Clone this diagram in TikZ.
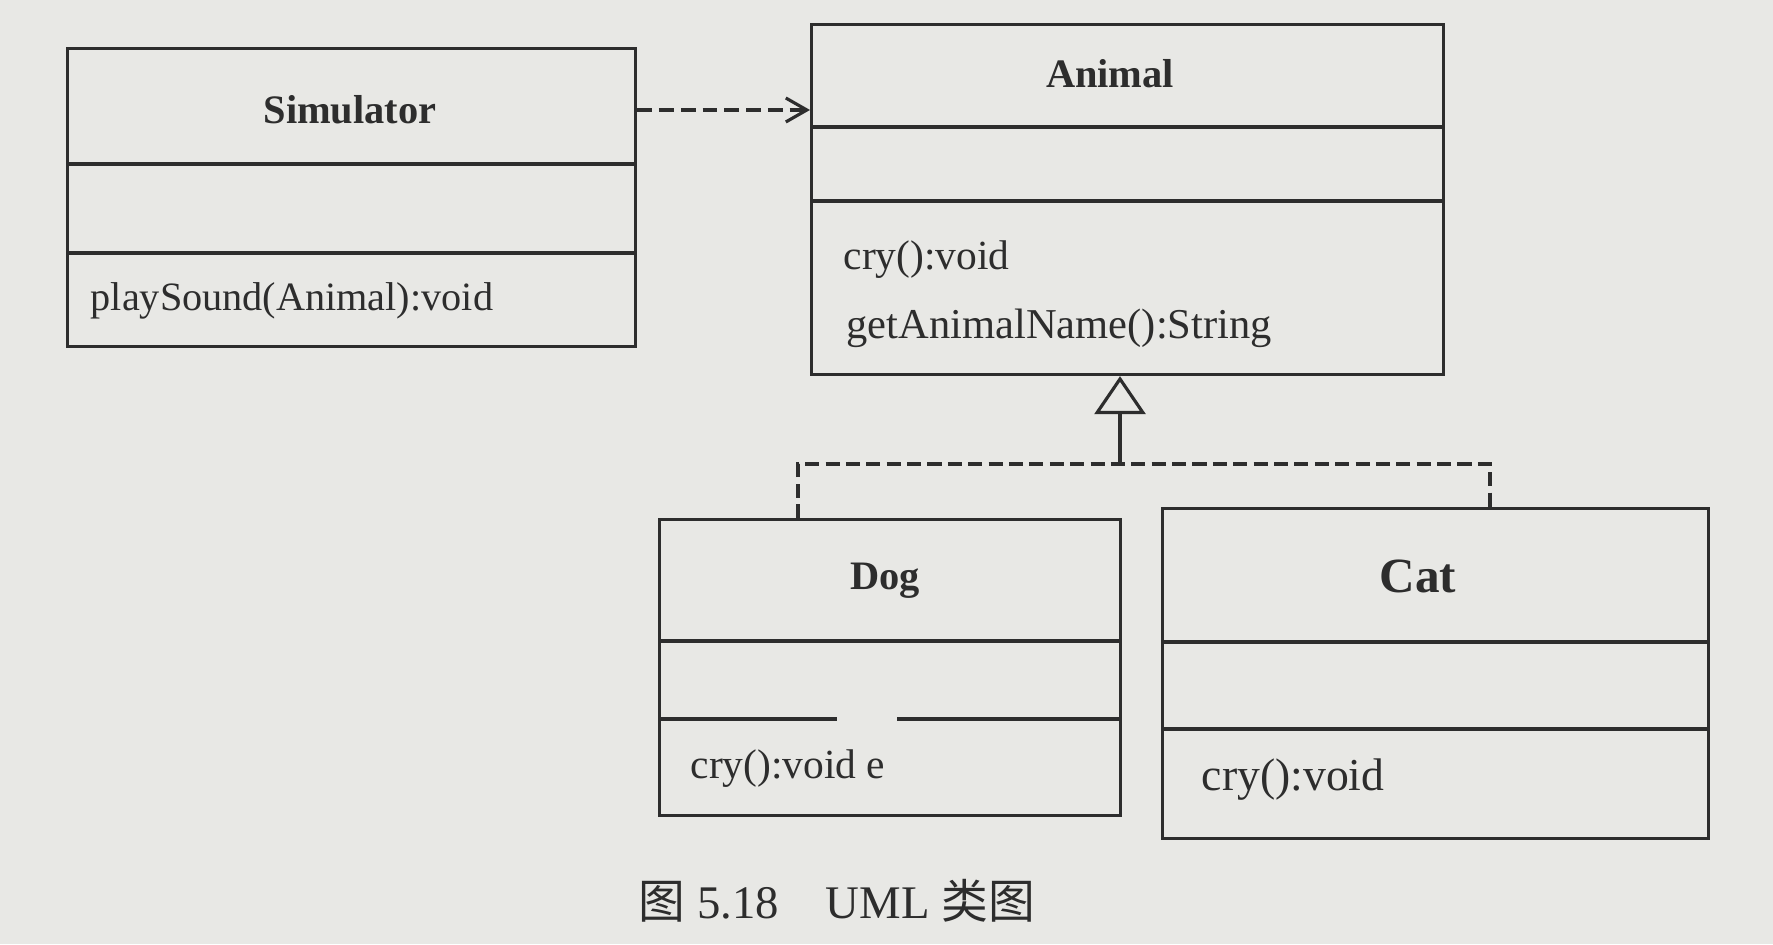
\documentclass[tikz,border=0pt]{standalone}
\usepackage{fontspec}
\setmainfont{Liberation Serif}
\newfontfamily\cjk{Noto Sans CJK SC}
\usepackage{xcolor}
\usetikzlibrary{arrows.meta,positioning}
\definecolor{paper}{RGB}{232,232,229}
\definecolor{ink}{RGB}{45,45,45}

\begin{document}
\begin{tikzpicture}[
  classbox/.style={rectangle, draw=ink, line width=0.9pt, anchor=north west, inner sep=0pt},
  divider/.style={draw=ink, line width=0.9pt},
  title/.style={font=\fontsize{11.5}{14}\selectfont\bfseries, text=ink},
  member/.style={font=\fontsize{11.8}{14}\selectfont, text=ink, anchor=west, inner sep=0pt},
  depend/.style={-{Straight Barb[length=2.1mm,width=2.4mm]}, draw=ink, line width=0.9pt, dash pattern=on 4.2pt off 2pt},
  realize/.style={draw=ink, line width=0.9pt, dash pattern=on 4pt off 1.8pt}
]
\useasboundingbox[fill=paper] (0,0) rectangle (17.73,9.44);

\node[classbox, minimum width=5.68cm, minimum height=2.98cm] (sim) at (0.66,8.97) {};
\node[title] (simname) at (3.50,8.34) {Simulator};
\draw[divider] ([yshift=-1.17cm]sim.north west) -- ([yshift=-1.17cm]sim.north east);
\draw[divider] ([yshift=-2.06cm]sim.north west) -- ([yshift=-2.06cm]sim.north east);
\node[member, font=\fontsize{11.45}{14}\selectfont] (play) at (0.90,6.43) {playSound(Animal):void};

\node[classbox, minimum width=6.32cm, minimum height=3.50cm] (animal) at (8.10,9.21) {};
\node[title] (animalname) at (11.10,8.70) {Animal};
\draw[divider] ([yshift=-1.04cm]animal.north west) -- ([yshift=-1.04cm]animal.north east);
\draw[divider] ([yshift=-1.78cm]animal.north west) -- ([yshift=-1.78cm]animal.north east);
\node[member] (acry) at (8.43,6.84) {cry():void};
\node[member, font=\fontsize{12.1}{14}\selectfont] (agetname) at (8.46,6.16) {getAnimalName():String};

\node[classbox, minimum width=4.61cm, minimum height=2.96cm] (dog) at (6.58,4.26) {};
\node[title] (dogname) at (8.85,3.63) {Dog};
\draw[divider] ([yshift=-1.23cm]dog.north west) -- ([yshift=-1.23cm]dog.north east);
\draw[divider] ([yshift=-2.01cm]dog.north west) -- ([yshift=-2.01cm,xshift=1.79cm]dog.north west);
\draw[divider] ([yshift=-2.01cm,xshift=2.39cm]dog.north west) -- ([yshift=-2.01cm]dog.north east);
\node[member] (dcry) at (6.90,1.75) {cry():void e};

\node[classbox, minimum width=5.46cm, minimum height=3.30cm] (cat) at (11.61,4.37) {};
\node[title, font=\fontsize{14}{16}\selectfont\bfseries] (catname) at (14.18,3.68) {Cat};
\draw[divider] ([yshift=-1.35cm]cat.north west) -- ([yshift=-1.35cm]cat.north east);
\draw[divider] ([yshift=-2.22cm]cat.north west) -- ([yshift=-2.22cm]cat.north east);
\node[member, font=\fontsize{13}{15}\selectfont] (ccry) at (12.01,1.64) {cry():void};

\draw[depend] (sim.east |- simname) -- (animal.west |- simname);

\coordinate (join) at (11.20,4.80);
\draw[draw=ink, line width=0.9pt, -{Triangle[open,length=3.8mm,width=5.1mm]}] (join) -- (animal.south -| join);
\draw[realize] ([xshift=1.40cm]dog.north west) |- (join) -| ([xshift=3.29cm]cat.north west);

\node[font=\fontsize{13.3}{16}\selectfont, text=ink] (caption) at (8.37,0.43) {{\cjk 图} 5.18\quad UML {\cjk 类图}};
\end{tikzpicture}
\end{document}
